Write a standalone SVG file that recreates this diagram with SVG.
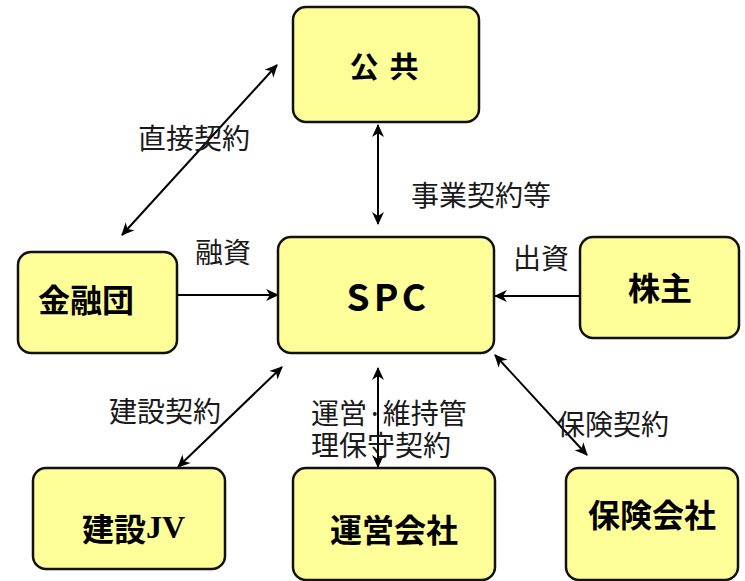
<svg xmlns="http://www.w3.org/2000/svg" width="745" height="581" viewBox="0 0 745 581">
<style>
.box{fill:#ffff99;stroke:#111;stroke-width:2.5}
.nl{font-family:"Noto Sans CJK JP",sans-serif;font-weight:bold;font-size:32px;fill:#000;text-anchor:middle;dominant-baseline:central}
.lbl{font-family:"Noto Sans CJK JP",sans-serif;font-size:28px;fill:#1a1a1a;dominant-baseline:central}
.con{stroke:#000;stroke-width:2;fill:none}
</style>
<defs>
<marker id="ah" viewBox="0 0 12 12" refX="11" refY="6" markerWidth="13" markerHeight="13" markerUnits="userSpaceOnUse" orient="auto-start-reverse">
<path d="M0,0.5 L12,6 L0,11.5 L3.5,6 z" fill="#000"/>
</marker>
</defs>
<rect width="745" height="581" fill="#fff"/>
<g id="connectors">
<line class="con" x1="122" y1="235" x2="277" y2="65" marker-start="url(#ah)" marker-end="url(#ah)"/>
<line class="con" x1="378" y1="125" x2="378" y2="224" marker-start="url(#ah)" marker-end="url(#ah)"/>
<line class="con" x1="178" y1="295" x2="278" y2="295" marker-end="url(#ah)"/>
<line class="con" x1="580" y1="296" x2="495" y2="296" marker-end="url(#ah)"/>
<line class="con" x1="282" y1="367" x2="178" y2="467" marker-start="url(#ah)" marker-end="url(#ah)"/>
<line class="con" x1="378" y1="368" x2="378" y2="467" marker-start="url(#ah)" marker-end="url(#ah)"/>
<line class="con" x1="495" y1="355" x2="587" y2="455" marker-start="url(#ah)" marker-end="url(#ah)"/>
</g>
<g id="labels">
<text class="lbl" x="138" y="137">直接契約</text>
<text class="lbl" x="411" y="194">事業契約等</text>
<text class="lbl" x="195" y="251">融資</text>
<text class="lbl" x="513" y="257">出資</text>
<text class="lbl" x="109" y="410">建設契約</text>
<text class="lbl" x="311" y="412">運営·維持管</text>
<text class="lbl" x="311" y="444">理保守契約</text>
<text class="lbl" x="557" y="423">保険契約</text>
</g>
<g id="kokyo">
<rect class="box" x="293" y="7" width="186" height="115" rx="13"/>
<text class="nl" x="364 404" y="65" style="font-size:29px">公共</text>
</g>
<g id="kinyudan">
<rect class="box" x="18" y="252" width="159" height="101" rx="13"/>
<text class="nl" x="86" y="298">金融団</text>
</g>
<g id="spc">
<rect class="box" x="278" y="237" width="216" height="116" rx="13"/>
<text class="nl" x="358 386 414" y="295" style="font-size:37px">SPC</text>
</g>
<g id="kabunushi">
<rect class="box" x="580" y="237" width="159" height="101" rx="13"/>
<text class="nl" x="660" y="286">株主</text>
</g>
<g id="kensetsujv">
<rect class="box" x="33" y="468" width="192" height="101" rx="13"/>
<text class="nl" x="82" y="527" style="text-anchor:start">建設<tspan style="font-family:'Liberation Serif',serif">JV</tspan></text>
</g>
<g id="uneigaisha">
<rect class="box" x="293" y="468" width="202" height="112" rx="13"/>
<text class="nl" x="394" y="528">運営会社</text>
</g>
<g id="hokengaisha">
<rect class="box" x="566" y="468" width="172" height="112" rx="13"/>
<text class="nl" x="652" y="513">保険会社</text>
</g>
</svg>
